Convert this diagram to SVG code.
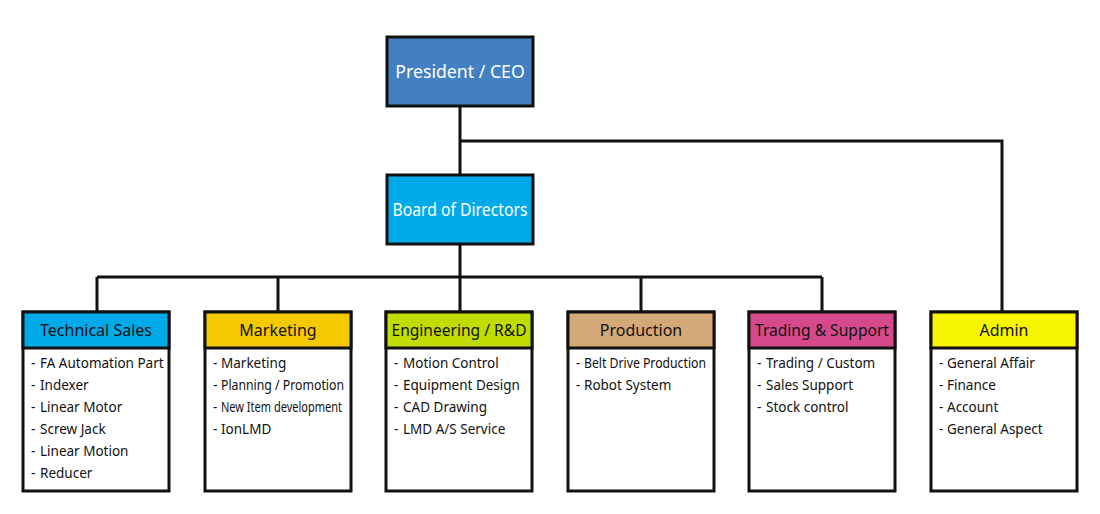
<svg xmlns="http://www.w3.org/2000/svg" width="1100" height="514" viewBox="0 0 1100 514">
<style>
.box{stroke:#111;stroke-width:3}
.con{fill:none;stroke:#111;stroke-width:3}
.top{font-family:"Noto Sans","Open Sans",sans-serif;font-size:17.7px;fill:#fff;text-anchor:middle}
.hd{font-family:"Noto Sans","Open Sans",sans-serif;font-size:16px;fill:#111;text-anchor:middle}
.it{font-family:"Noto Sans","Open Sans",sans-serif;font-size:13.5px;fill:#111}
</style>
<rect width="1100" height="514" fill="#fff"/>
<g id="connectors">
<path class="con" d="M460 106V174M460 141H1002V312M460 244V277M97 277H822M97 277V312M278 277V312M460 277V312M641 277V312M822 277V312"/>
</g>
<g id="president">
<rect class="box" x="387" y="37" width="146" height="69" fill="#4280c1"/>
<text class="top" x="460" y="78">President / CEO</text>
</g>
<g id="board">
<rect class="box" x="387" y="175" width="146" height="69" fill="#00a9e8"/>
<text class="top" x="460" y="216" textLength="135" lengthAdjust="spacingAndGlyphs">Board of Directors</text>
</g>
<g id="technical-sales">
<rect class="box" x="23" y="312" width="146" height="179" fill="#fff"/>
<rect class="box" x="23" y="312" width="146" height="36" fill="#00a9e8"/>
<text class="hd" x="96" y="336">Technical Sales</text>
<text class="it" x="31" y="368">-<tspan x="40">FA Automation Part</tspan></text>
<text class="it" x="31" y="390">-<tspan x="40">Indexer</tspan></text>
<text class="it" x="31" y="412">-<tspan x="40">Linear Motor</tspan></text>
<text class="it" x="31" y="434">-<tspan x="40">Screw Jack</tspan></text>
<text class="it" x="31" y="456">-<tspan x="40">Linear Motion</tspan></text>
<text class="it" x="31" y="478">-<tspan x="40">Reducer</tspan></text>
</g>
<g id="marketing">
<rect class="box" x="205" y="312" width="146" height="179" fill="#fff"/>
<rect class="box" x="205" y="312" width="146" height="36" fill="#f5c900"/>
<text class="hd" x="278" y="336">Marketing</text>
<text class="it" x="213" y="368">-<tspan x="221">Marketing</tspan></text>
<text class="it" x="213" y="390">-<tspan x="221" textLength="123" lengthAdjust="spacingAndGlyphs">Planning / Promotion</tspan></text>
<text class="it" x="213" y="412">-<tspan x="221" textLength="121" lengthAdjust="spacingAndGlyphs">New Item development</tspan></text>
<text class="it" x="213" y="434">-<tspan x="221">IonLMD</tspan></text>
</g>
<g id="engineering">
<rect class="box" x="386" y="312" width="146" height="179" fill="#fff"/>
<rect class="box" x="386" y="312" width="146" height="36" fill="#c0dc00"/>
<text class="hd" x="459" y="336" textLength="135" lengthAdjust="spacingAndGlyphs">Engineering / R&amp;D</text>
<text class="it" x="394" y="368">-<tspan x="403">Motion Control</tspan></text>
<text class="it" x="394" y="390">-<tspan x="403">Equipment Design</tspan></text>
<text class="it" x="394" y="412">-<tspan x="403">CAD Drawing</tspan></text>
<text class="it" x="394" y="434">-<tspan x="403">LMD A/S Service</tspan></text>
</g>
<g id="production">
<rect class="box" x="568" y="312" width="146" height="179" fill="#fff"/>
<rect class="box" x="568" y="312" width="146" height="36" fill="#d5a877"/>
<text class="hd" x="641" y="336">Production</text>
<text class="it" x="576" y="368">-<tspan x="584" textLength="122" lengthAdjust="spacingAndGlyphs">Belt Drive Production</tspan></text>
<text class="it" x="576" y="390">-<tspan x="584">Robot System</tspan></text>
</g>
<g id="trading-support">
<rect class="box" x="749" y="312" width="146" height="179" fill="#fff"/>
<rect class="box" x="749" y="312" width="146" height="36" fill="#d64a8c"/>
<text class="hd" x="822" y="336" textLength="134" lengthAdjust="spacingAndGlyphs">Trading &amp; Support</text>
<text class="it" x="757" y="368">-<tspan x="766">Trading / Custom</tspan></text>
<text class="it" x="757" y="390">-<tspan x="766">Sales Support</tspan></text>
<text class="it" x="757" y="412">-<tspan x="766">Stock control</tspan></text>
</g>
<g id="admin">
<rect class="box" x="931" y="312" width="146" height="179" fill="#fff"/>
<rect class="box" x="931" y="312" width="146" height="36" fill="#f7f500"/>
<text class="hd" x="1004" y="336">Admin</text>
<text class="it" x="939" y="368">-<tspan x="947">General Affair</tspan></text>
<text class="it" x="939" y="390">-<tspan x="947">Finance</tspan></text>
<text class="it" x="939" y="412">-<tspan x="947">Account</tspan></text>
<text class="it" x="939" y="434">-<tspan x="947">General Aspect</tspan></text>
</g>
</svg>
